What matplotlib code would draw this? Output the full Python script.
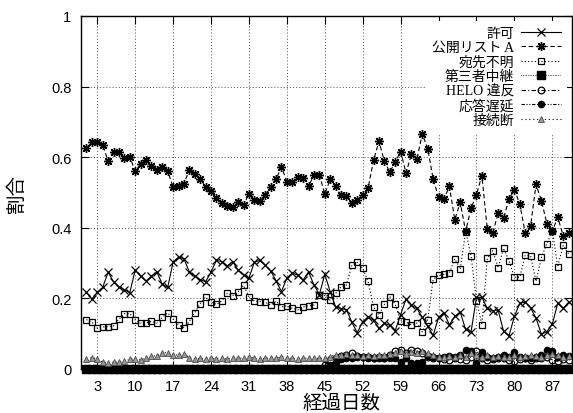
import numpy as np
import matplotlib
matplotlib.use('Agg')
import matplotlib.pyplot as plt
from matplotlib.ticker import FixedLocator, FuncFormatter

# daily ratios, day 1..90
days = np.arange(1, 91)

kyoka = [0.217, 0.198, 0.217, 0.231, 0.274, 0.247, 0.231, 0.225, 0.216, 0.280,
         0.263, 0.249, 0.263, 0.275, 0.240, 0.231, 0.303, 0.317, 0.312, 0.275,
         0.263, 0.253, 0.247, 0.275, 0.308, 0.304, 0.292, 0.304, 0.280, 0.266,
         0.258, 0.302, 0.308, 0.294, 0.278, 0.250, 0.219, 0.258, 0.272, 0.266,
         0.252, 0.275, 0.238, 0.211, 0.268, 0.219, 0.176, 0.171, 0.168, 0.132,
         0.103, 0.134, 0.148, 0.138, 0.115, 0.129, 0.124, 0.109, 0.154, 0.198,
         0.180, 0.172, 0.146, 0.121, 0.095, 0.146, 0.160, 0.125, 0.149, 0.161,
         0.112, 0.105, 0.203, 0.203, 0.172, 0.165, 0.167, 0.107, 0.094, 0.149,
         0.186, 0.190, 0.173, 0.144, 0.098, 0.106, 0.127, 0.186, 0.172, 0.189]

koukai = [0.625, 0.644, 0.642, 0.635, 0.589, 0.616, 0.614, 0.597, 0.601, 0.560,
          0.580, 0.592, 0.574, 0.564, 0.572, 0.560, 0.516, 0.519, 0.525, 0.564,
          0.551, 0.537, 0.516, 0.503, 0.483, 0.469, 0.463, 0.460, 0.472, 0.465,
          0.496, 0.479, 0.476, 0.492, 0.515, 0.537, 0.572, 0.531, 0.529, 0.543,
          0.542, 0.517, 0.550, 0.550, 0.496, 0.537, 0.518, 0.492, 0.489, 0.470,
          0.480, 0.492, 0.513, 0.591, 0.645, 0.588, 0.558, 0.586, 0.616, 0.555,
          0.609, 0.595, 0.666, 0.624, 0.538, 0.487, 0.482, 0.517, 0.423, 0.472,
          0.390, 0.455, 0.494, 0.548, 0.396, 0.384, 0.442, 0.427, 0.481, 0.508,
          0.467, 0.385, 0.406, 0.523, 0.476, 0.412, 0.390, 0.430, 0.378, 0.385]

fumei = [0.140, 0.133, 0.116, 0.119, 0.120, 0.122, 0.141, 0.157, 0.157, 0.139,
         0.130, 0.130, 0.135, 0.130, 0.146, 0.159, 0.141, 0.125, 0.117, 0.135,
         0.160, 0.185, 0.204, 0.190, 0.183, 0.193, 0.214, 0.208, 0.219, 0.237,
         0.205, 0.192, 0.191, 0.189, 0.181, 0.192, 0.176, 0.179, 0.172, 0.167,
         0.176, 0.179, 0.181, 0.209, 0.208, 0.195, 0.214, 0.233, 0.238, 0.294,
         0.302, 0.285, 0.248, 0.176, 0.153, 0.183, 0.205, 0.183, 0.137, 0.133,
         0.125, 0.130, 0.105, 0.140, 0.254, 0.265, 0.268, 0.272, 0.312, 0.283,
         0.389, 0.321, 0.194, 0.126, 0.314, 0.335, 0.287, 0.342, 0.307, 0.260,
         0.260, 0.322, 0.320, 0.248, 0.317, 0.355, 0.392, 0.290, 0.350, 0.327]

daisansha = [0.0, 0.0, 0.0, 0.0, 0.0, 0.0, 0.0, 0.0, 0.0, 0.0,
             0.0, 0.0, 0.0, 0.0, 0.0, 0.0, 0.0, 0.0, 0.0, 0.0,
             0.0, 0.0, 0.0, 0.0, 0.0, 0.0, 0.0, 0.0, 0.0, 0.0,
             0.0, 0.0, 0.0, 0.0, 0.0, 0.0, 0.0, 0.0, 0.0, 0.0,
             0.0, 0.0, 0.0, 0.0, 0.0, 0.0, 0.0, 0.0, 0.0, 0.0,
             0.0, 0.0, 0.0, 0.0, 0.0, 0.0, 0.0, 0.0, 0.0, 0.0,
             0.0, 0.0, 0.0, 0.0, 0.0, 0.0, 0.0, 0.0, 0.0, 0.0,
             0.0, 0.0, 0.0, 0.0, 0.0, 0.0, 0.0, 0.0, 0.0, 0.0,
             0.0, 0.0, 0.0, 0.0, 0.0, 0.0, 0.0, 0.0, 0.0, 0.0]

helo = [0.0, 0.0, 0.0, 0.0, 0.0, 0.0, 0.0, 0.0, 0.0, 0.0,
        0.0, 0.0, 0.0, 0.0, 0.0, 0.0, 0.0, 0.0, 0.0, 0.0,
        0.0, 0.0, 0.0, 0.0, 0.0, 0.0, 0.0, 0.0, 0.0, 0.0,
        0.0, 0.0, 0.0, 0.0, 0.0, 0.0, 0.0, 0.0, 0.0, 0.0,
        0.0, 0.0, 0.0, 0.0, 0.012, 0.025, 0.032, 0.036, 0.040, 0.045,
        0.036, 0.035, 0.033, 0.030, 0.035, 0.032, 0.040, 0.050, 0.055, 0.045,
        0.055, 0.050, 0.045, 0.035, 0.030, 0.032, 0.028, 0.025, 0.030, 0.028,
        0.025, 0.035, 0.050, 0.030, 0.025, 0.028, 0.030, 0.032, 0.025, 0.022,
        0.028, 0.030, 0.025, 0.030, 0.032, 0.035, 0.025, 0.022, 0.028, 0.025]

outou = [0.0, 0.0, 0.0, 0.0, 0.0, 0.0, 0.0, 0.0, 0.0, 0.0,
         0.0, 0.0, 0.0, 0.0, 0.0, 0.0, 0.0, 0.0, 0.0, 0.0,
         0.0, 0.0, 0.0, 0.0, 0.0, 0.0, 0.0, 0.0, 0.0, 0.0,
         0.0, 0.0, 0.0, 0.0, 0.0, 0.0, 0.0, 0.0, 0.0, 0.0,
         0.0, 0.0, 0.0, 0.0, 0.0, 0.012, 0.020, 0.027, 0.030, 0.032,
         0.035, 0.033, 0.030, 0.030, 0.030, 0.030, 0.032, 0.030, 0.020, 0.030,
         0.018, 0.018, 0.020, 0.036, 0.035, 0.032, 0.035, 0.038, 0.033, 0.040,
         0.055, 0.050, 0.016, 0.048, 0.035, 0.030, 0.035, 0.040, 0.035, 0.048,
         0.035, 0.032, 0.030, 0.035, 0.040, 0.055, 0.050, 0.035, 0.040, 0.038]

setsudan = [0.029, 0.032, 0.029, 0.019, 0.018, 0.019, 0.019, 0.022, 0.027, 0.029,
            0.025, 0.032, 0.036, 0.038, 0.046, 0.046, 0.041, 0.039, 0.043, 0.032,
            0.028, 0.030, 0.029, 0.031, 0.029, 0.030, 0.028, 0.030, 0.031, 0.030,
            0.035, 0.030, 0.029, 0.030, 0.031, 0.030, 0.035, 0.031, 0.030, 0.029,
            0.030, 0.031, 0.030, 0.030, 0.031, 0.035, 0.040, 0.040, 0.042, 0.040,
            0.040, 0.038, 0.040, 0.038, 0.040, 0.040, 0.042, 0.045, 0.050, 0.042,
            0.048, 0.045, 0.050, 0.045, 0.040, 0.035, 0.035, 0.038, 0.035, 0.040,
            0.035, 0.045, 0.040, 0.035, 0.040, 0.035, 0.038, 0.035, 0.035, 0.040,
            0.035, 0.038, 0.040, 0.038, 0.035, 0.040, 0.042, 0.040, 0.035, 0.038]

labels = ['許可', '公開リスト A', '宛先不明', '第三者中継', 'HELO 違反', '応答遅延', '接続断']
xticks = [3, 10, 17, 24, 31, 38, 45, 52, 59, 66, 73, 80, 87]
yticks = [0, 0.2, 0.4, 0.6, 0.8, 1]

jp = ['Liberation Serif', 'Noto Sans CJK JP']

fig = plt.figure(figsize=(5.73, 4.14), dpi=100)
ax = fig.add_axes([0.1414, 0.1063, 0.8569, 0.8527])

lw = 0.8
ax.plot(days, kyoka, color='black', lw=lw, ls='-', marker='x', ms=5.5, mew=0.9, label=labels[0])
ax.plot(days, koukai, color='black', lw=lw, ls=(0, (4, 2.5)), marker=(8, 2, 0), ms=6.5,
        mew=1.0, label=labels[1])
ax.plot(days, fumei, color='black', lw=lw, ls=(0, (1, 2)), marker='s', ms=4.8, mfc='none',
        mew=0.9, label=labels[2])
ax.plot(days, daisansha, color='black', lw=lw, ls=(0, (0.5, 1)), marker='s', ms=5.5,
        clip_on=False, label=labels[3])
ax.plot(days, helo, color='black', lw=lw, ls=(0, (4, 2, 1, 2)), marker='o', ms=4.8,
        mfc='none', mew=0.9, clip_on=False, label=labels[4])
ax.plot(days, outou, color='black', lw=lw, ls=(0, (3, 1.5, 1, 1.5, 1, 1.5)), marker='o',
        ms=4.5, clip_on=False, label=labels[5])
ax.plot(days, setsudan, color='black', lw=lw, ls=(0, (1, 2.5)), marker='^', ms=4.8,
        mfc='0.6', mec='0.3', mew=0.6, clip_on=False, label=labels[6])

ax.set_xlim(0, 90.64)
ax.set_ylim(0, 1)
ax.xaxis.set_major_locator(FixedLocator(xticks))
ax.yaxis.set_major_locator(FixedLocator(yticks))
ax.yaxis.set_major_formatter(FuncFormatter(lambda v, p: '%g' % v))
ax.tick_params(direction='in', top=True, right=True, length=6, width=0.8,
               labelsize=10.5, pad=7)
for t in ax.get_xticklabels() + ax.get_yticklabels():
    t.set_fontfamily('Liberation Sans')
ax.grid(True, color='0.3', lw=0.7, ls=(0, (1, 2.2)))
for s in ax.spines.values():
    s.set_linewidth(1.0)

ax.set_xlabel('経過日数', family=jp, fontsize=14)
ax.xaxis.set_label_coords(0.53, -0.07)
ax.set_ylabel('割合', family=jp, fontsize=14)
ax.yaxis.set_label_coords(-0.112, 0.5)

# key in the top right corner: text on the left, sample on the right
leg = ax.legend(loc='upper right', markerfirst=False, frameon=True, fancybox=False,
                prop={'family': jp, 'size': 10}, handlelength=2.9, handletextpad=0.45,
                labelspacing=0.08, borderpad=0.45, borderaxespad=0.35, numpoints=1)
leg.get_frame().set_edgecolor('none')
leg.get_frame().set_facecolor('white')
leg.get_frame().set_alpha(1)
leg.set_zorder(5)

fig.savefig('out.png', dpi=100)
